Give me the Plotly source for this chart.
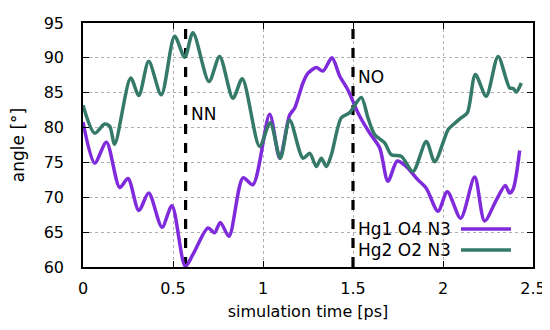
import plotly.graph_objects as go

# ---- data ----
purple_t = [0, 0.065, 0.13, 0.204, 0.25, 0.31, 0.365, 0.439, 0.494, 0.568, 0.611, 0.694,
            0.731, 0.763, 0.811, 0.889, 0.944, 1.037, 1.093, 1.148, 1.176, 1.222, 1.25,
            1.296, 1.333, 1.383, 1.426, 1.472, 1.528, 1.593, 1.648, 1.694, 1.746, 1.796,
            1.861, 1.907, 1.972, 2.024, 2.098, 2.176, 2.231, 2.296, 2.346, 2.37, 2.39, 2.426]
purple_v = [80.8, 74.9, 77.9, 71.4, 72.7, 68.1, 70.6, 65.7, 68.8, 60.1, 61.8, 65.6,
            64.9, 66.4, 64.4, 72.8, 71.8, 81.9, 75.6, 81.8, 82.8, 86.4, 87.8,
            88.6, 88.1, 90.0, 87.4, 85.4, 82.1, 79.2, 77.1, 72.3, 75.2, 74.4,
            72.5, 71.3, 68.0, 70.8, 67.0, 72.9, 66.6, 69.6, 71.7, 70.6, 71.2, 76.7]

green_t = [0, 0.065, 0.12, 0.148, 0.176, 0.265, 0.31, 0.365, 0.435, 0.509, 0.565, 0.611,
           0.70, 0.759, 0.833, 0.885, 0.981, 1.04, 1.096, 1.148, 1.222, 1.26, 1.296, 1.324,
           1.352, 1.38, 1.435, 1.48, 1.546, 1.583, 1.62, 1.676, 1.713, 1.768, 1.833, 1.907,
           1.954, 2.028, 2.056, 2.10, 2.135, 2.18, 2.24, 2.306, 2.37, 2.39, 2.407, 2.435]
green_v = [83.2, 79.2, 80.5, 80.2, 77.6, 87.1, 84.6, 89.5, 84.7, 93.1, 90.1, 93.6,
           86.6, 90.2, 84.2, 87.0, 77.3, 80.7, 75.6, 81.1, 75.6, 76.3, 74.4, 75.6,
           74.4, 76.1, 81.4, 82.1, 84.3, 81.4, 79.0, 77.8, 76.1, 75.9, 73.7, 78.0,
           75.1, 79.7, 80.4, 81.4, 82.1, 87.6, 84.5, 90.2, 85.7, 85.6, 85.1, 86.4]

series_names = ["Hg1 O4 N3", "Hg2 O2 N3"]
series_colors = ["#7f2bdc", "#357a69"]

event_times = [0.57, 1.5]
event_labels = ["NN", "NO"]
event_label_y = [81.9, 87.2]

x_ticks = [0, 0.5, 1, 1.5, 2, 2.5]
y_ticks = [60, 65, 70, 75, 80, 85, 90, 95]

FONT = "DejaVu Sans, sans-serif"

fig = go.Figure()

# event lines
for t in event_times:
    fig.add_trace(go.Scatter(x=[t, t], y=[60, 95], mode="lines",
                             line=dict(color="black", width=3.2, dash="10px,9px"),
                             showlegend=False, hoverinfo="skip"))

for t, v, name, col in zip([purple_t, green_t], [purple_v, green_v], series_names, series_colors):
    fig.add_trace(go.Scatter(x=t, y=v, mode="lines", name=name,
                             line=dict(color=col, width=3.5, shape="spline", smoothing=0.8),
                             showlegend=False))

for t, lab, ly in zip(event_times, event_labels, event_label_y):
    fig.add_annotation(x=t, y=ly, text=lab, showarrow=False, xanchor="left",
                       xshift=3, font=dict(size=17, color="black", family=FONT))

# manual gnuplot-style legend (text then sample)
legend_rows_y = [0.156, 0.070]
for name, col, ly in zip(series_names, series_colors, legend_rows_y):
    fig.add_annotation(xref="paper", yref="paper", x=0.822, y=ly, text=name,
                       showarrow=False, xanchor="right", yanchor="middle",
                       font=dict(size=17, color="black", family=FONT))
    fig.add_shape(type="line", xref="paper", yref="paper", x0=0.84, x1=0.951,
                  y0=ly, y1=ly, line=dict(color=col, width=3.5))

axis_common = dict(showline=True, linecolor="black", linewidth=1.5, mirror="ticks",
                   ticks="inside", ticklen=6, tickcolor="black", tickwidth=1.2,
                   showgrid=True, gridcolor="#b0b0b0", griddash="dot", gridwidth=1,
                   zeroline=False, automargin=False,
                   tickfont=dict(size=16, color="black", family=FONT))

fig.update_xaxes(range=[0, 2.5], tickvals=x_ticks, ticktext=[f"{v:g}" for v in x_ticks],
                 title=dict(text="simulation time [ps]", font=dict(size=16, color="black", family=FONT),
                            standoff=9),
                 ticklabelstandoff=6, **axis_common)
fig.update_yaxes(range=[60, 95], tickvals=y_ticks,
                 title=dict(text="angle [°]", font=dict(size=17, color="black", family=FONT),
                            standoff=15),
                 ticklabelstandoff=14, **axis_common)

fig.update_layout(width=550, height=330, margin=dict(l=75, r=25, t=15, b=71),
                  plot_bgcolor="white", paper_bgcolor="white", showlegend=False)

fig.write_html("out.html")
